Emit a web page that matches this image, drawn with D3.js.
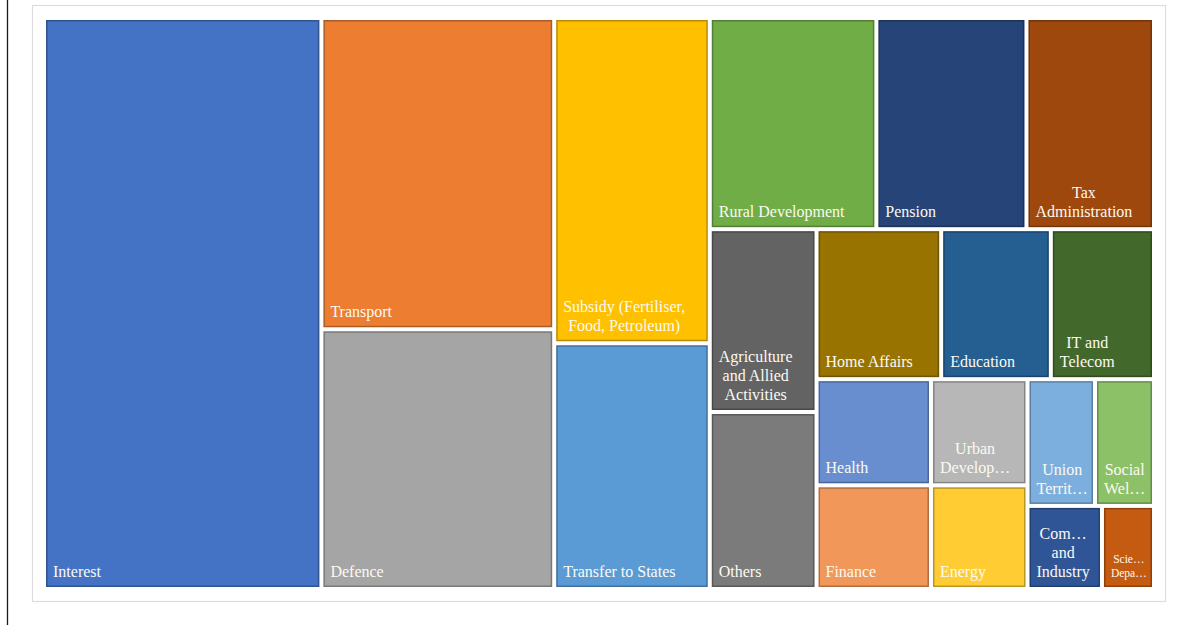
<!DOCTYPE html>
<html>
<head>
<meta charset="utf-8">
<script src="https://cdn.jsdelivr.net/npm/d3@7"></script>
<style>
  body { margin: 0; background: #fff; }
  svg { display: block; }
</style>
</head>
<body>
<svg id="chart" width="1203" height="625"></svg>
<script>
// Union Budget expenditure by head (in ₹ crore), in sheet order
const categories = [
  "Interest", "Transport", "Defence", "Subsidy (Fertiliser, Food, Petroleum)",
  "Transfer to States", "Rural Development", "Pension", "Tax Administration",
  "Agriculture and Allied Activities", "Home Affairs", "Education", "IT and Telecom",
  "Health", "Finance", "Urban Development", "Energy", "Union Territories",
  "Social Welfare", "Commerce and Industry", "Scientific Departments", "Others"
];
const amounts = [
  1190400, 544600, 454400, 380300,
  287300, 264400, 238200, 202400,
  146700, 140500, 123600, 116300,
  91300, 89200, 77000, 75200, 64300,
  56200, 46500, 32500, 142000
];
// Data labels as they appear in each tile (wrapped / shortened to fit)
const labelLines = [
  ["Interest"], ["Transport"], ["Defence"], ["Subsidy (Fertiliser,", "Food, Petroleum)"],
  ["Transfer to States"], ["Rural Development"], ["Pension"], ["Tax", "Administration"],
  ["Agriculture", "and Allied", "Activities"], ["Home Affairs"], ["Education"], ["IT and", "Telecom"],
  ["Health"], ["Finance"], ["Urban", "Develop…"], ["Energy"], ["Union", "Territ…"],
  ["Social", "Wel…"], ["Com…", "and", "Industry"], ["Scie…", "Depa…"], ["Others"]
];

// Office theme series colours
const palette = [
  "#4472C4", "#ED7D31", "#A5A5A5", "#FFC000", "#5B9BD5", "#70AD47",
  "#264478", "#9E480E", "#636363", "#997300", "#255E91", "#43682B",
  "#698ED0", "#F1975A", "#B7B7B7", "#FFCD33", "#7CAFDD", "#8CC168",
  "#2F5597", "#C55A11", "#7B7B7B"
];
const color = d3.scaleOrdinal().domain(categories).range(palette);

// Squarified tiling that aims for tiles a little taller than wide
// (width : height close to the given target), strips laid along the short side.
function tallSquarify(target) {
  return function (parent, x0, y0, x1, y1) {
    const nodes = parent.children;
    let value = parent.value;
    let i0 = 0;
    while (i0 < nodes.length) {
      const dx = x1 - x0, dy = y1 - y0;
      const k = value ? (dx * dy) / value : 0;
      const across = dx < dy;            // strip across the top
      const side = across ? dx : dy;
      const badness = (sum, lo, hi) => {
        const t = (sum * k) / side;        // strip thickness
        const qs = across
          ? [lo * k / (t * t), hi * k / (t * t)]
          : [t * t / (lo * k), t * t / (hi * k)];
        return Math.max(...qs.map(q => Math.max(q / target, target / q)));
      };
      let sum = nodes[i0].value, lo = sum, hi = sum;
      let best = badness(sum, lo, hi);
      let i1 = i0 + 1;
      while (i1 < nodes.length) {
        const v = nodes[i1].value;
        const s2 = sum + v, l2 = Math.min(lo, v), h2 = Math.max(hi, v);
        const r = badness(s2, l2, h2);
        if (r > best) break;
        sum = s2; lo = l2; hi = h2; best = r; i1++;
      }
      const row = { value: sum, children: nodes.slice(i0, i1) };
      const last = i1 >= nodes.length;
      if (across) {
        const yb = last ? y1 : y0 + dy * sum / value;
        d3.treemapDice(row, x0, y0, x1, yb);
        y0 = yb;
      } else {
        const xb = last ? x1 : x0 + dx * sum / value;
        d3.treemapSlice(row, x0, y0, xb, y1);
        x0 = xb;
      }
      value -= sum;
      i0 = i1;
    }
  };
}

const svg = d3.select("#chart");

// page frame and chart area border
svg.append("line")
  .attr("x1", 7.5).attr("x2", 7.5).attr("y1", 0).attr("y2", 625)
  .attr("stroke", "#1a1a1a").attr("stroke-width", 1.3);
svg.append("rect")
  .attr("x", 32.5).attr("y", 5.5).attr("width", 1133).attr("height", 596)
  .attr("fill", "#fff").attr("stroke", "#dcdcdc").attr("stroke-width", 1.2);

const root = d3.hierarchy({
    children: categories.map((name, i) => ({ name, value: amounts[i], lines: labelLines[i] }))
  })
  .sum(d => d.value || 0)
  .sort((a, b) => b.value - a.value);

d3.treemap()
  .size([1106, 567])
  .paddingInner(4)
  .tile(tallSquarify(0.618))(root);

const g = svg.append("g").attr("transform", "translate(46,20)");

const cell = g.selectAll("g.cell")
  .data(root.leaves())
  .join("g")
  .attr("class", "cell");

cell.append("rect")
  .attr("x", d => d.x0 + 0.75)
  .attr("y", d => d.y0 + 0.75)
  .attr("width", d => Math.max(0, d.x1 - d.x0 - 1.5))
  .attr("height", d => Math.max(0, d.y1 - d.y0 - 1.5))
  .attr("fill", d => color(d.data.name))
  .attr("stroke", d => d3.color(color(d.data.name)).darker(0.9))
  .attr("stroke-width", 1.5);

cell.each(function (d) {
  const lines = d.data.lines;
  const w = d.x1 - d.x0;
  const fs = w < 52 ? 11.5 : 16;
  const lh = fs * 1.2;
  const left = d.x0 + 7;
  const baseY = d.y1 - 10;
  const text = d3.select(this).append("text")
    .attr("font-family", "'Liberation Serif', 'Times New Roman', serif")
    .attr("font-size", fs)
    .attr("fill", "#fbfaf2");
  const spans = lines.map((ln, i) =>
    text.append("tspan")
      .attr("x", left)
      .attr("y", baseY - (lines.length - 1 - i) * lh)
      .text(ln));
  if (lines.length > 1) {
    const widths = spans.map(s => s.node().getComputedTextLength());
    const cx = left + d3.max(widths) / 2;
    spans.forEach(s => s.attr("x", cx).attr("text-anchor", "middle"));
  }
});
</script>
</body>
</html>
